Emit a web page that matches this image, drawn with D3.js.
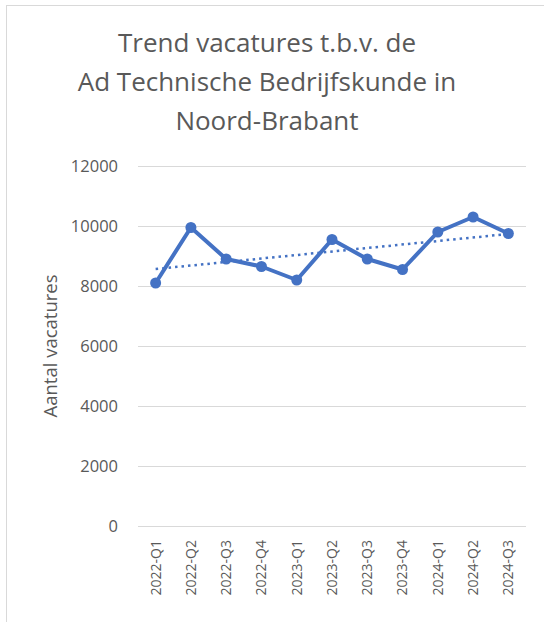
<!DOCTYPE html>
<html>
<head>
<meta charset="utf-8">
<script src="https://cdn.jsdelivr.net/npm/d3@7"></script>
<style>
  body { margin: 0; background: #fff; }
</style>
</head>
<body>
<div id="canvas"></div>
<script>
"use strict"

/* Data */
let quarters = ["2022-Q1", "2022-Q2", "2022-Q3", "2022-Q4", "2023-Q1", "2023-Q2",
    "2023-Q3", "2023-Q4", "2024-Q1", "2024-Q2", "2024-Q3"];
let vacatures = [8100, 9950, 8900, 8650, 8200, 9550, 8900, 8550, 9800, 10300, 9750];
let yTicks = [0, 2000, 4000, 6000, 8000, 10000, 12000];
let titleLines = ["Trend vacatures t.b.v. de", "Ad Technische Bedrijfskunde in", "Noord-Brabant"];

let width = 544;
let height = 622;
let textColor = "#595959";
let lineColor = "#4472C4";
let fontFamily = "'Open Sans', sans-serif";

let drawing = d3.select("#canvas")
    .append("svg")
    .attr("width", width)
    .attr("height", height);

/* Chart frame (only the top and left edge fall inside the picture) */
let frame = drawing.append("rect")
    .attr("x", 6.5)
    .attr("y", 5.5)
    .attr("width", width + 10)
    .attr("height", height + 10)
    .attr("fill", "none")
    .attr("stroke", "#d9d9d9");

/* Title */
let title = drawing.append("text")
    .attr("text-anchor", "middle")
    .attr("font-family", fontFamily)
    .attr("font-size", 26)
    .attr("fill", textColor);
title.selectAll("tspan")
    .data(titleLines)
    .join("tspan")
    .attr("x", 267)
    .attr("y", (d, i) => 52 + i * 39)
    .text(d => d);

/* Scales */
let plotLeft = 138;
let plotRight = 526;
let plotTop = 166;
let plotBottom = 526;

let x = d3.scaleBand()
    .domain(quarters)
    .range([plotLeft, plotRight])
    .padding(0);

let y = d3.scaleLinear()
    .domain([0, 12000])
    .range([plotBottom, plotTop]);

let xc = d => x(d) + x.bandwidth() / 2;

/* Gridlines + y tick labels */
let yAxis = drawing.append("g")
    .attr("transform", "translate(" + plotLeft + ",0)")
    .call(d3.axisLeft(y).tickValues(yTicks).tickSize(-(plotRight - plotLeft)).tickPadding(20).tickFormat(d3.format("d")));
yAxis.select(".domain").remove();
yAxis.selectAll("line").attr("stroke", "#d9d9d9");
yAxis.selectAll("text")
    .attr("fill", textColor)
    .attr("font-family", fontFamily)
    .attr("font-size", 16.5);

/* x axis labels, rotated */
let xAxis = drawing.append("g")
    .attr("transform", "translate(0," + plotBottom + ")")
    .call(d3.axisBottom(x).tickSize(0).tickPadding(0));
xAxis.select(".domain").remove();
xAxis.selectAll("text")
    .attr("fill", textColor)
    .attr("font-family", fontFamily)
    .attr("font-size", 14)
    .attr("text-anchor", "end")
    .attr("dy", "0.35em")
    .attr("transform", "translate(0,14) rotate(-90)");

/* y axis title */
let yTitle = drawing.append("text")
    .attr("transform", "translate(57," + ((plotTop + plotBottom) / 2) + ") rotate(-90)")
    .attr("text-anchor", "middle")
    .attr("font-family", fontFamily)
    .attr("font-size", 18.5)
    .attr("fill", textColor)
    .text("Aantal vacatures");

/* Linear trendline (least squares over the data) */
let idx = vacatures.map((v, i) => i);
let meanI = d3.mean(idx);
let meanV = d3.mean(vacatures);
let slope = d3.sum(idx, i => (i - meanI) * (vacatures[i] - meanV)) / d3.sum(idx, i => (i - meanI) * (i - meanI));
let intercept = meanV - slope * meanI;
let trendEnds = [0, quarters.length - 1];

let trendLine = drawing.append("path")
    .datum(trendEnds)
    .attr("d", d3.line().x(i => xc(quarters[i])).y(i => y(intercept + slope * i)))
    .attr("fill", "none")
    .attr("stroke", lineColor)
    .attr("stroke-width", 2.5)
    .attr("stroke-dasharray", "2.5,4");

/* Data line */
let series = quarters.map((q, i) => ({ q: q, v: vacatures[i] }));

let dataLine = drawing.append("path")
    .datum(series)
    .attr("d", d3.line().x(d => xc(d.q)).y(d => y(d.v)))
    .attr("fill", "none")
    .attr("stroke", lineColor)
    .attr("stroke-width", 4)
    .attr("stroke-linejoin", "round");

let markers = drawing.append("g")
    .selectAll("circle")
    .data(series)
    .join("circle")
    .attr("cx", d => xc(d.q))
    .attr("cy", d => y(d.v))
    .attr("r", 5.5)
    .attr("fill", lineColor);
</script>
</body>
</html>
